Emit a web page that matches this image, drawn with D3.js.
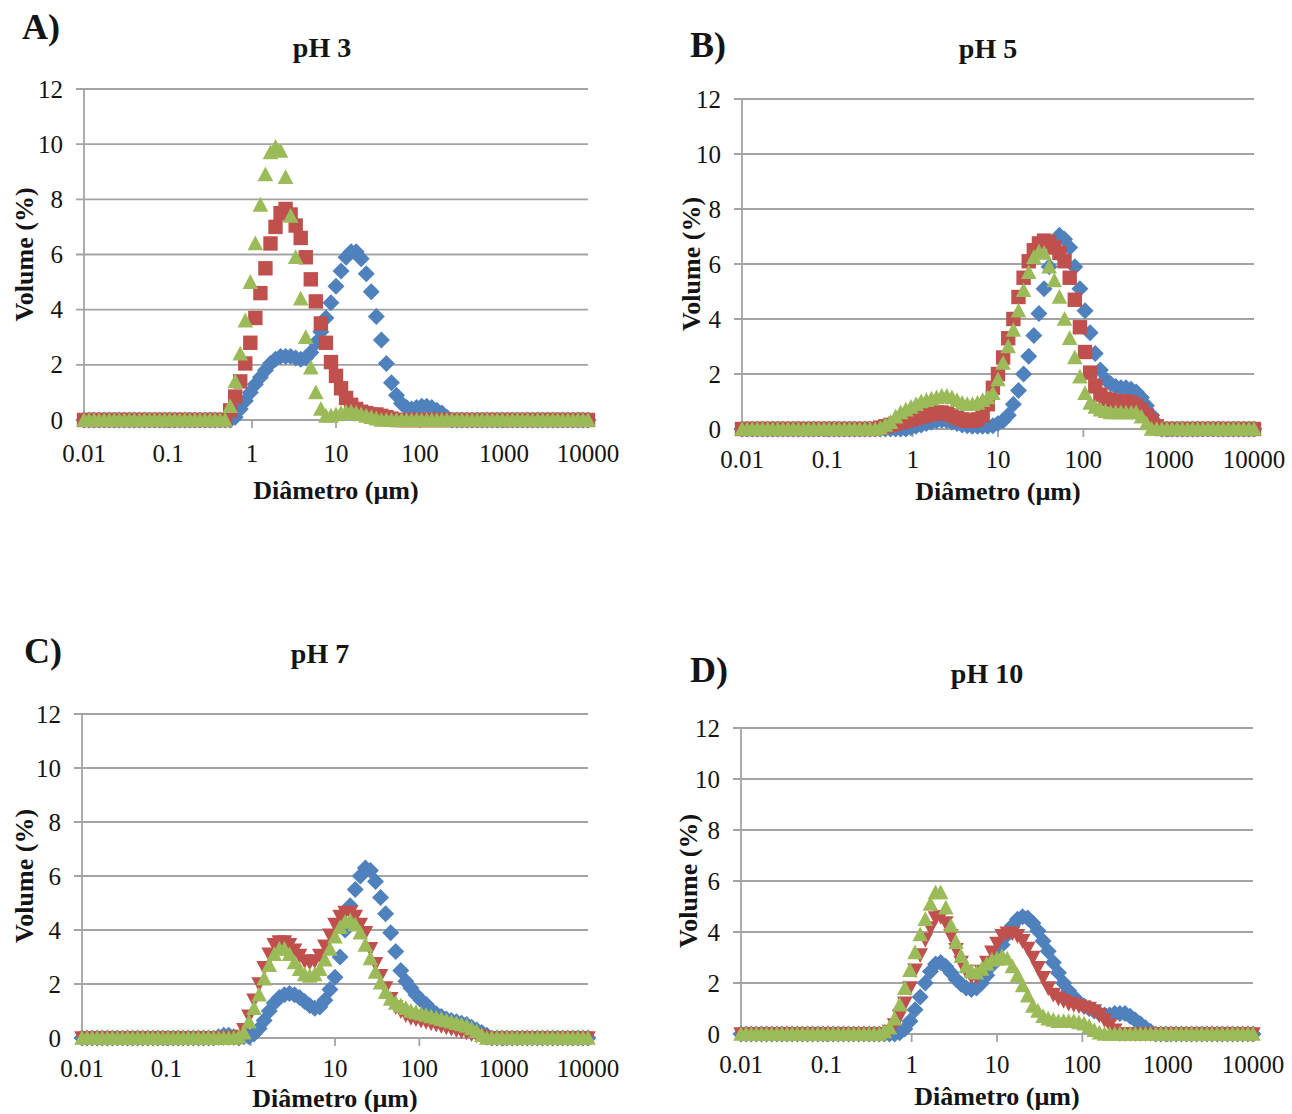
<!DOCTYPE html>
<html>
<head>
<meta charset="utf-8">
<script src="https://cdn.jsdelivr.net/npm/d3@7"></script>
<style>
  body { margin: 0; background: #ffffff; }
  svg { display: block; }
  text { font-family: "Liberation Serif", "Times New Roman", serif; fill: #141414; }
</style>
</head>
<body>
<svg id="chart" width="1292" height="1114"></svg>
<script>
// Size classes of the laser diffraction analyser (µm)
const diameters = [
  0.01, 0.01148, 0.01318, 0.01514, 0.01738, 0.01995, 0.02291, 0.0263, 0.0302, 0.03467,
  0.03981, 0.04571, 0.05248, 0.06026, 0.06918, 0.07943, 0.0912, 0.1047, 0.1202, 0.138,
  0.1585, 0.182, 0.2089, 0.2399, 0.2754, 0.3162, 0.3631, 0.4169, 0.4786, 0.5495,
  0.631, 0.7244, 0.8318, 0.955, 1.096, 1.259, 1.445, 1.66, 1.905, 2.188,
  2.512, 2.884, 3.311, 3.802, 4.365, 5.012, 5.754, 6.607, 7.586, 8.71,
  10, 11.48, 13.18, 15.14, 17.38, 19.95, 22.91, 26.3, 30.2, 34.67,
  39.81, 45.71, 52.48, 60.26, 69.18, 79.43, 91.2, 104.7, 120.2, 138,
  158.5, 182, 208.9, 239.9, 275.4, 316.2, 363.1, 416.9, 478.6, 549.5,
  631, 724.4, 831.8, 955, 1096, 1259, 1445, 1660, 1905, 2188,
  2512, 2884, 3311, 3802, 4365, 5012, 5754, 6607, 7586, 8710,
  10000
];

const xTickValues = [0.01, 0.1, 1, 10, 100, 1000, 10000];
const xTickLabels = ["0.01", "0.1", "1", "10", "100", "1000", "10000"];
const yTickValues = [0, 2, 4, 6, 8, 10, 12];
const panelLetters = ["A)", "B)", "C)", "D)"];
const panelTitles = ["pH 3", "pH 5", "pH 7", "pH 10"];

// Volume (%) per size class
const ph3Blue = [
  0,0,0,0,0,0,0,0,0,0, 0,0,0,0,0,0,0,0,0,0, 0,0,0,0,0,0,0,0,0,0,
  0.1, 0.4, 0.7, 1.0, 1.3, 1.55, 1.8, 2.05, 2.2, 2.3,
  2.3, 2.3, 2.25, 2.2, 2.25, 2.45, 2.8, 3.2, 3.7, 4.25,
  4.85, 5.4, 5.9, 6.1, 6.1, 5.85, 5.3, 4.65, 3.75, 2.9,
  2.05, 1.35, 0.9, 0.6, 0.45, 0.4, 0.45, 0.5, 0.5, 0.45,
  0.35, 0.25, 0.1, 0, 0, 0, 0, 0, 0, 0,
  0,0,0,0,0,0,0,0,0,0, 0,0,0,0,0,0,0,0,0,0, 0
];
const ph3Red = [
  0,0,0,0,0,0,0,0,0,0, 0,0,0,0,0,0,0,0,0,0,
  0, 0, 0, 0, 0, 0, 0, 0, 0, 0.35,
  0.85, 1.4, 2.05, 2.8, 3.7, 4.6, 5.5, 6.4, 7.0, 7.5,
  7.65, 7.45, 7.05, 6.6, 5.9, 5.1, 4.3, 3.5, 2.8, 2.1,
  1.6, 1.15, 0.8, 0.55, 0.4, 0.3, 0.25, 0.2, 0.2, 0.15,
  0.1, 0.05, 0, 0, 0, 0, 0, 0, 0, 0,
  0,0,0,0,0,0,0,0,0,0, 0,0,0,0,0,0,0,0,0,0, 0,0,0,0,0,0,0,0,0,0, 0
];
const ph3Green = [
  0,0,0,0,0,0,0,0,0,0, 0,0,0,0,0,0,0,0,0,0,
  0, 0, 0, 0, 0, 0, 0, 0, 0, 0.5,
  1.4, 2.4, 3.6, 5.0, 6.4, 7.8, 8.9, 9.7, 9.9, 9.75,
  8.8, 7.4, 5.9, 4.4, 3.0, 1.9, 1.0, 0.4, 0.15, 0.15,
  0.2, 0.25, 0.3, 0.3, 0.25, 0.2, 0.15, 0.1, 0.05, 0,
  0,0,0,0,0,0,0,0,0,0, 0,0,0,0,0,0,0,0,0,0, 0,0,0,0,0,0,0,0,0,0,
  0,0,0,0,0,0,0,0,0,0, 0
];

const ph5Blue = [
  0,0,0,0,0,0,0,0,0,0, 0,0,0,0,0,0,0,0,0,0, 0,0,0,0,0,0,0,0,0,0,
  0, 0, 0, 0.05, 0.1, 0.15, 0.2, 0.25, 0.3, 0.32,
  0.3, 0.25, 0.2, 0.15, 0.12, 0.1, 0.1, 0.1, 0.1, 0.12,
  0.2, 0.3, 0.5, 0.9, 1.4, 2.0, 2.65, 3.4, 4.2, 5.1,
  5.9, 6.6, 7.05, 6.9, 6.6, 5.9, 5.1, 4.3, 3.5, 2.75,
  2.15, 1.8, 1.65, 1.55, 1.5, 1.5, 1.45, 1.35, 1.15, 0.85,
  0.5, 0.2, 0, 0, 0, 0, 0, 0, 0, 0,
  0,0,0,0,0,0,0,0,0,0, 0
];
const ph5Red = [
  0,0,0,0,0,0,0,0,0,0, 0,0,0,0,0,0,0,0,0,0,
  0, 0, 0, 0, 0, 0, 0, 0.05, 0.1, 0.15,
  0.2, 0.25, 0.3, 0.35, 0.4, 0.45, 0.5, 0.55, 0.6, 0.6,
  0.55, 0.5, 0.4, 0.35, 0.3, 0.3, 0.35, 0.5, 0.9, 1.5,
  2.0, 2.6, 3.3, 4.0, 4.8, 5.5, 6.1, 6.5, 6.75, 6.85,
  6.8, 6.6, 6.4, 6.1, 5.5, 4.7, 3.7, 2.8, 2.05, 1.55,
  1.25, 1.1, 1.05, 1.0, 1.0, 1.0, 0.95, 0.85, 0.7, 0.5,
  0.3, 0.1, 0, 0, 0, 0, 0, 0, 0, 0,
  0,0,0,0,0,0,0,0,0,0, 0
];
const ph5Green = [
  0,0,0,0,0,0,0,0,0,0, 0,0,0,0,0,0,0,0,0,0,
  0, 0, 0, 0, 0, 0, 0, 0.05, 0.15, 0.25,
  0.45, 0.6, 0.7, 0.8, 0.9, 1.0, 1.05, 1.1, 1.15, 1.2,
  1.2, 1.15, 1.05, 0.95, 0.9, 0.9, 0.95, 1.05, 1.15, 1.3,
  1.8, 2.4, 3.0, 3.6, 4.3, 5.05, 5.7, 6.25, 6.45, 6.4,
  5.9, 5.4, 4.8, 4.0, 3.3, 2.6, 1.9, 1.3, 0.95, 0.8,
  0.7, 0.65, 0.6, 0.6, 0.6, 0.6, 0.6, 0.6, 0.45, 0.2,
  0,0,0,0,0,0,0,0,0,0, 0,0,0,0,0,0,0,0,0,0, 0
];

const ph7Blue = [
  0,0,0,0,0,0,0,0,0,0, 0,0,0,0,0,0,0,0,0,0,
  0, 0, 0, 0, 0, 0, 0, 0.05, 0.1, 0.1,
  0.05, 0, 0.05, 0.05, 0.15, 0.35, 0.65, 1.0, 1.3, 1.5,
  1.6, 1.65, 1.6, 1.5, 1.35, 1.2, 1.1, 1.15, 1.4, 1.8,
  2.25, 3.0, 4.0, 4.9, 5.5, 6.0, 6.3, 6.2, 5.8, 5.2,
  4.6, 3.9, 3.2, 2.5, 2.1, 1.85, 1.6, 1.4, 1.25, 1.05,
  0.9, 0.8, 0.7, 0.65, 0.6, 0.55, 0.5, 0.4, 0.3, 0.2,
  0.1, 0, 0, 0, 0, 0, 0, 0, 0, 0,
  0,0,0,0,0,0,0,0,0,0, 0
];
const ph7Red = [
  0,0,0,0,0,0,0,0,0,0, 0,0,0,0,0,0,0,0,0,0, 0,0,0,0,0,0,0,0,0,0,
  0, 0.05, 0.3, 0.8, 1.4, 2.0, 2.6, 3.1, 3.45, 3.55,
  3.55, 3.45, 3.25, 3.05, 2.85, 2.8, 2.85, 3.05, 3.4, 3.8,
  4.2, 4.5, 4.65, 4.65, 4.5, 4.2, 3.9, 3.3, 2.75, 2.3,
  1.85, 1.45, 1.15, 1.0, 0.85, 0.75, 0.7, 0.65, 0.6, 0.55,
  0.5, 0.45, 0.4, 0.35, 0.3, 0.25, 0.2, 0.15, 0.1, 0.05,
  0,0,0,0,0,0,0,0,0,0, 0,0,0,0,0,0,0,0,0,0, 0
];
const ph7Green = [
  0,0,0,0,0,0,0,0,0,0, 0,0,0,0,0,0,0,0,0,0, 0,0,0,0,0,0,0,0,0,0,
  0, 0.05, 0.2, 0.6, 1.1, 1.6, 2.2, 2.7, 3.1, 3.3,
  3.3, 3.1, 2.8, 2.55, 2.35, 2.3, 2.35, 2.55, 2.9, 3.3,
  3.75, 4.1, 4.3, 4.35, 4.2, 3.9, 3.45, 2.95, 2.45, 2.05,
  1.7, 1.45, 1.3, 1.2, 1.1, 1.0, 0.95, 0.9, 0.85, 0.8,
  0.75, 0.7, 0.65, 0.6, 0.55, 0.5, 0.45, 0.35, 0.25, 0.1,
  0,0,0,0,0,0,0,0,0,0, 0,0,0,0,0,0,0,0,0,0, 0
];

const ph10Blue = [
  0,0,0,0,0,0,0,0,0,0, 0,0,0,0,0,0,0,0,0,0, 0,0,0,0,0,0,0,0,0,0,
  0, 0.05, 0.2, 0.5, 0.95, 1.45, 2.0, 2.45, 2.75, 2.8,
  2.65, 2.4, 2.15, 1.95, 1.8, 1.75, 1.8, 2.0, 2.3, 2.7,
  3.1, 3.5, 3.9, 4.25, 4.5, 4.6, 4.55, 4.35, 4.05, 3.65,
  3.25, 2.8, 2.4, 2.0, 1.7, 1.45, 1.25, 1.1, 1.0, 0.9,
  0.8, 0.75, 0.75, 0.8, 0.8, 0.8, 0.7, 0.55, 0.4, 0.25,
  0.1, 0, 0, 0, 0, 0, 0, 0, 0, 0,
  0,0,0,0,0,0,0,0,0,0, 0
];
const ph10Red = [
  0,0,0,0,0,0,0,0,0,0, 0,0,0,0,0,0,0,0,0,0,
  0, 0, 0, 0, 0, 0, 0, 0, 0, 0.1,
  0.35, 0.7, 1.2, 1.8, 2.5, 3.1, 3.7, 4.15, 4.55, 4.6,
  4.35, 3.85, 3.3, 2.8, 2.45, 2.25, 2.25, 2.45, 2.8, 3.2,
  3.55, 3.85, 3.95, 3.95, 3.85, 3.65, 3.35, 3.0, 2.6, 2.2,
  1.8, 1.55, 1.4, 1.3, 1.2, 1.15, 1.1, 1.05, 1.0, 0.9,
  0.75, 0.55, 0.35, 0.15, 0, 0, 0, 0, 0, 0,
  0,0,0,0,0,0,0,0,0,0, 0,0,0,0,0,0,0,0,0,0, 0
];
const ph10Green = [
  0,0,0,0,0,0,0,0,0,0, 0,0,0,0,0,0,0,0,0,0,
  0, 0, 0, 0, 0, 0, 0, 0, 0.1, 0.25,
  0.6, 1.15, 1.8, 2.5, 3.2, 3.9, 4.5, 5.1, 5.55, 5.55,
  4.95, 4.25, 3.6, 3.05, 2.65, 2.45, 2.4, 2.55, 2.75, 2.9,
  2.95, 3.05, 2.95, 2.65, 2.3, 1.9, 1.5, 1.1, 0.9, 0.7,
  0.6, 0.55, 0.5, 0.5, 0.5, 0.5, 0.45, 0.4, 0.3, 0.15,
  0.05, 0, 0, 0, 0, 0, 0, 0, 0, 0,
  0,0,0,0,0,0,0,0,0,0, 0,0,0,0,0,0,0,0,0,0, 0
];

const seriesColors = ["#4F81BD", "#C0504D", "#9BBB59"];
const gridColor = "#a3a3a3";

// Layout of the four sub-charts
const panels = [
  { series: [ph3Blue, ph3Red, ph3Green], shapes: ["diamond", "square", "triangle"],
    box: { left: 84, right: 588, top: 89, bottom: 420 },
    titleAt: [322, 57], letterAt: [22, 39], tickBase: 462, xTitleBase: 499, yTitleX: 24 },
  { series: [ph5Blue, ph5Red, ph5Green], shapes: ["diamond", "square", "triangle"],
    box: { left: 742, right: 1254, top: 99, bottom: 429 },
    titleAt: [988, 58], letterAt: [690, 57], tickBase: 468, xTitleBase: 500, yTitleX: 691 },
  { series: [ph7Blue, ph7Red, ph7Green], shapes: ["diamond", "triangleDown", "triangle"],
    box: { left: 82, right: 588, top: 714, bottom: 1038 },
    titleAt: [320, 663], letterAt: [24, 663], tickBase: 1077, xTitleBase: 1107, yTitleX: 24 },
  { series: [ph10Blue, ph10Red, ph10Green], shapes: ["diamond", "triangleDown", "triangle"],
    box: { left: 741, right: 1253, top: 728, bottom: 1034 },
    titleAt: [987, 683], letterAt: [690, 682], tickBase: 1073, xTitleBase: 1105, yTitleX: 688 }
];

const markerPaths = {
  diamond: "M0,-8.5L8.5,0L0,8.5L-8.5,0Z",
  square: "M-7.2,-7.2H7.2V7.2H-7.2Z",
  triangle: "M0,-8L7.8,6.8L-7.8,6.8Z",
  triangleDown: "M-7.8,-6.8H7.8L0,8Z"
};

const svg = d3.select("#chart");

panels.forEach((p, i) => {
  const b = p.box;
  const x = d3.scaleLog().domain([0.01, 10000]).range([b.left, b.right]);
  const y = d3.scaleLinear().domain([0, 12]).range([b.bottom, b.top]);
  const g = svg.append("g");

  // horizontal gridlines with short left ticks
  g.append("g").selectAll("line").data(yTickValues).join("line")
    .attr("x1", b.left - 8).attr("x2", b.right)
    .attr("y1", d => y(d)).attr("y2", d => y(d))
    .attr("stroke", gridColor).attr("stroke-width", 1.8);

  // vertical axis line
  g.append("line")
    .attr("x1", b.left).attr("x2", b.left)
    .attr("y1", y(12)).attr("y2", y(0))
    .attr("stroke", gridColor).attr("stroke-width", 1.8);

  // x axis ticks
  g.append("g").selectAll("line").data(xTickValues).join("line")
    .attr("x1", d => x(d)).attr("x2", d => x(d))
    .attr("y1", y(0)).attr("y2", y(0) + 8)
    .attr("stroke", gridColor).attr("stroke-width", 1.8);

  // y tick labels
  g.append("g").selectAll("text").data(yTickValues).join("text")
    .attr("x", b.left - 21).attr("y", d => y(d) + 8.5)
    .attr("text-anchor", "end").attr("font-size", 25)
    .text(d => d);

  // x tick labels
  g.append("g").selectAll("text").data(xTickValues).join("text")
    .attr("x", d => x(d)).attr("y", p.tickBase)
    .attr("text-anchor", "middle").attr("font-size", 25)
    .text((d, j) => xTickLabels[j]);

  // markers: blue, then red, then green on top
  p.series.forEach((values, s) => {
    g.append("g").selectAll("path").data(values).join("path")
      .attr("d", markerPaths[p.shapes[s]])
      .attr("transform", (v, k) => `translate(${x(diameters[k])},${y(v)})`)
      .attr("fill", seriesColors[s]);
  });

  // titles
  g.append("text").attr("x", p.titleAt[0]).attr("y", p.titleAt[1])
    .attr("text-anchor", "middle").attr("font-size", 28).attr("font-weight", "bold")
    .text(panelTitles[i]);
  g.append("text").attr("x", p.letterAt[0]).attr("y", p.letterAt[1])
    .attr("font-size", 36).attr("font-weight", "bold")
    .text(panelLetters[i]);
  g.append("text").attr("x", (b.left + b.right) / 2).attr("y", p.xTitleBase)
    .attr("text-anchor", "middle").attr("font-size", 26).attr("font-weight", "bold")
    .text("Diâmetro (µm)");
  g.append("text")
    .attr("transform", `translate(${p.yTitleX},${(b.top + b.bottom) / 2}) rotate(-90)`)
    .attr("text-anchor", "middle").attr("dy", "0.35em")
    .attr("font-size", 26).attr("font-weight", "bold")
    .text("Volume (%)");
});
</script>
</body>
</html>
